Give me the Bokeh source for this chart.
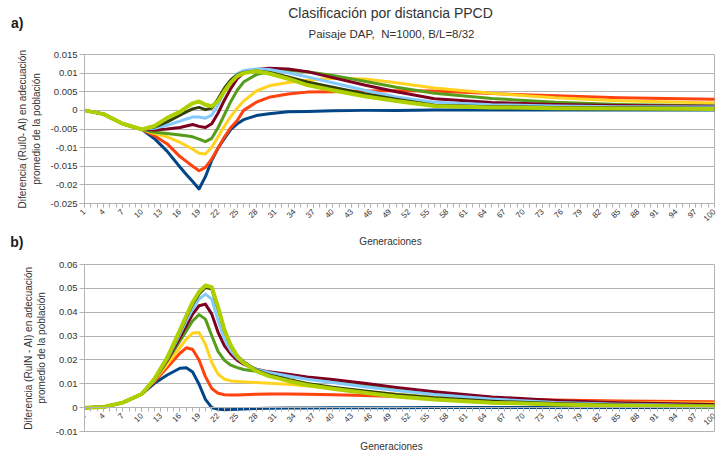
from math import pi

from bokeh.core.properties import value
from bokeh.embed import file_html
from bokeh.layouts import column
from bokeh.models import (ColumnDataSource, CustomJSTickFormatter, FixedTicker,
                          Range1d)
from bokeh.plotting import figure
from bokeh.resources import INLINE

# Generations at which each series is sampled
gens = [1, 4, 7, 10, 12, 14, 16, 17, 18, 19, 20, 21, 22, 23, 24, 25, 26, 28,
        30, 33, 36, 40, 45, 50, 56, 65, 75, 85, 100]
tick_gens = list(range(1, 101, 3))

colors = ["#004586", "#ff420e", "#ffd320", "#579d1c",
          "#7e0021", "#83caff", "#314004", "#aecf00"]

# a) Diferencia (RuI0 - AI)
a_blue = [0, -0.001, -0.0036, -0.0051, -0.0076, -0.011, -0.0152, -0.0172, -0.0191, -0.0211,
          -0.0178, -0.0134, -0.0101, -0.0075, -0.0051, -0.0036, -0.0025, -0.0014, -0.0009,
          -0.0004, -0.0003, -0.0001, 0, 0, 0.0001, 0.0001, 0.0001, 0.0001, 0.0001]
a_orange = [0, -0.001, -0.0036, -0.0051, -0.0068, -0.009, -0.0124, -0.0137, -0.015, -0.0162,
            -0.0153, -0.013, -0.0101, -0.0071, -0.0046, -0.0027, 0.0, 0.0022, 0.0035,
            0.0044, 0.0049, 0.005, 0.0052, 0.0053, 0.0052, 0.0045, 0.0039, 0.0034, 0.003]
a_yellow = [0, -0.001, -0.0036, -0.0051, -0.0062, -0.0071, -0.0086, -0.0095, -0.0104, -0.0115,
            -0.0117, -0.0099, -0.0071, -0.0042, -0.0016, 0.0006, 0.0025, 0.0052, 0.0066,
            0.0075, 0.0081, 0.0086, 0.0084, 0.0074, 0.006, 0.0046, 0.0034, 0.0026, 0.002]
a_green = [0, -0.001, -0.0036, -0.0051, -0.0059, -0.0062, -0.0066, -0.0068, -0.0071, -0.0077,
           -0.0084, -0.0075, -0.0046, -0.0011, 0.0024, 0.0054, 0.0076, 0.0096, 0.0104,
           0.0107, 0.0104, 0.0094, 0.0078, 0.0062, 0.0046, 0.0032, 0.0022, 0.0016, 0.0012]
a_darkred = [0, -0.001, -0.0036, -0.0051, -0.0053, -0.005, -0.0046, -0.0042, -0.0038, -0.0043,
             -0.0046, -0.0036, -0.0007, 0.0028, 0.0059, 0.0085, 0.01, 0.011, 0.0113,
             0.0111, 0.0104, 0.0088, 0.0068, 0.005, 0.0031, 0.0021, 0.0016, 0.0013, 0.0011]
a_lightblue = [0, -0.001, -0.0036, -0.0051, -0.0048, -0.004, -0.0029, -0.0023, -0.0018, -0.0018,
               -0.0021, -0.0013, 0.0015, 0.0052, 0.0081, 0.0098, 0.0107, 0.0111, 0.011,
               0.0101, 0.009, 0.0074, 0.0054, 0.0036, 0.0022, 0.0015, 0.0012, 0.001, 0.0009]
a_olive = [0, -0.001, -0.0036, -0.0051, -0.0045, -0.0031, -0.0013, -0.0004, 0.0004, 0.0008,
           0.0002, 0.0006, 0.0031, 0.006, 0.0082, 0.0095, 0.0102, 0.0106, 0.0102,
           0.009, 0.0076, 0.0062, 0.0045, 0.003, 0.0014, 0.001, 0.0008, 0.0007, 0.0006]
a_lime = [0, -0.001, -0.0036, -0.0051, -0.0042, -0.002, -0.0004, 0.0008, 0.0019, 0.0024,
          0.0015, 0.0011, 0.0025, 0.0052, 0.0075, 0.0092, 0.01, 0.0105, 0.0099,
          0.0085, 0.0068, 0.0054, 0.0038, 0.0025, 0.0012, 0.0008, 0.0006, 0.0005, 0.0004]

# b) Diferencia (RuIN - AI)
b_blue = [0, 0.0003, 0.0021, 0.0057, 0.0102, 0.0137, 0.0165, 0.0167, 0.0149, 0.0098,
          0.0035, 0.0, -0.0007, -0.0009, -0.0008, -0.0007, -0.0006, -0.0004, -0.0003,
          -0.0002, -0.0001, 0, 0, 0, 0.0001, 0.0001, 0.0001, 0.0001, 0.0001]
b_orange = [0, 0.0003, 0.0021, 0.0057, 0.011, 0.0168, 0.0228, 0.0251, 0.0244, 0.02,
            0.013, 0.008, 0.006, 0.0054, 0.0053, 0.0053, 0.0054, 0.0056, 0.0057,
            0.0057, 0.0056, 0.0054, 0.0051, 0.0047, 0.0043, 0.0037, 0.0032, 0.0028, 0.0025]
b_yellow = [0, 0.0003, 0.0021, 0.0057, 0.0114, 0.0182, 0.0252, 0.0287, 0.0313, 0.0315,
            0.0266, 0.0189, 0.014, 0.0119, 0.0112, 0.011, 0.0108, 0.0105, 0.0102,
            0.0098, 0.0091, 0.0082, 0.0068, 0.0056, 0.0045, 0.0035, 0.0028, 0.0022, 0.0018]
b_green = [0, 0.0003, 0.0021, 0.0057, 0.0117, 0.0196, 0.028, 0.0322, 0.0364, 0.039,
           0.0371, 0.0301, 0.0235, 0.0198, 0.0178, 0.0168, 0.016, 0.0152, 0.0142,
           0.0132, 0.0122, 0.011, 0.0094, 0.0078, 0.006, 0.0042, 0.0027, 0.0017, 0.001]
b_darkred = [0, 0.0003, 0.0021, 0.0057, 0.0118, 0.0199, 0.0294, 0.0343, 0.0392, 0.0427,
             0.0434, 0.0392, 0.0315, 0.0259, 0.0224, 0.0199, 0.0182, 0.0161, 0.015,
             0.014, 0.0129, 0.0118, 0.0102, 0.0085, 0.0067, 0.0045, 0.003, 0.002, 0.0013]
b_lightblue = [0, 0.0003, 0.0021, 0.0057, 0.0119, 0.0203, 0.0308, 0.0364, 0.0413, 0.0455,
               0.0476, 0.0455, 0.0364, 0.0287, 0.0238, 0.0208, 0.0187, 0.016, 0.0147,
               0.0133, 0.0119, 0.0105, 0.0088, 0.0072, 0.0055, 0.0036, 0.0022, 0.0014, 0.0008]
b_olive = [0, 0.0003, 0.0021, 0.0057, 0.012, 0.0207, 0.0319, 0.0378, 0.0434, 0.0476,
           0.0504, 0.0497, 0.0413, 0.0322, 0.0259, 0.0217, 0.0192, 0.0157, 0.0137,
           0.0118, 0.0101, 0.0086, 0.007, 0.0055, 0.0041, 0.0027, 0.0017, 0.0011, 0.0007]
b_lime = [0, 0.0003, 0.0021, 0.0057, 0.0121, 0.021, 0.0325, 0.0385, 0.0442, 0.0485,
          0.0512, 0.0505, 0.042, 0.0325, 0.026, 0.0215, 0.0188, 0.0153, 0.0132,
          0.0112, 0.0095, 0.0079, 0.0062, 0.0047, 0.0034, 0.0021, 0.0013, 0.0008, 0.0005]

a_series = [a_blue, a_orange, a_yellow, a_green, a_darkred, a_lightblue, a_olive, a_lime]
b_series = [b_blue, b_orange, b_yellow, b_green, b_darkred, b_lightblue, b_olive, b_lime]

a_yticks = [-0.025, -0.02, -0.015, -0.01, -0.005, 0, 0.005, 0.01, 0.015]
b_yticks = [-0.01, 0, 0.01, 0.02, 0.03, 0.04, 0.05, 0.06]

FONT = "Liberation Sans"
GRID = "#b3b3b3"
TEXT = "#333333"
W = 722
LEFT, RIGHT = 84, 8

fmt = CustomJSTickFormatter(code="""
    let s = tick.toFixed(3);
    s = s.replace(/0+$/, '').replace(/\\.$/, '');
    if (s === '-0') { s = '0'; }
    return s;
""")


def text_strip(height, letter=None):
    """A strip without data that carries text; x and y are in page pixels
    (the frame spans the same columns as the panels' frames).  An optional
    panel letter is shown as the horizontal label of its left axis."""
    p = figure(width=W, height=height, output_backend="svg", toolbar_location=None,
               x_range=Range1d(LEFT, W - RIGHT), y_range=Range1d(height, 0),
               min_border_left=LEFT, min_border_right=RIGHT,
               min_border_top=0, min_border_bottom=0, outline_line_color=None)
    p.grid.visible = False
    p.xaxis.visible = False
    ya = p.yaxis[0]
    if letter is None:
        ya.visible = False
    else:
        ya.ticker = FixedTicker(ticks=[])
        ya.axis_line_color = None
        ya.major_tick_line_color = None
        ya.minor_tick_line_color = None
        ya.major_tick_out = 0
        ya.minor_tick_out = 0
        ya.major_label_text_font_size = "0px"
        ya.axis_label = letter
        ya.axis_label_orientation = "horizontal"
        ya.axis_label_standoff = 61
        ya.axis_label_text_font = FONT
        ya.axis_label_text_font_size = "14px"
        ya.axis_label_text_font_style = "bold"
        ya.axis_label_text_color = "#1a1a1a"
    return p


def put(p, s, x, y, size):
    p.text(x=[x], y=[y], text=[s], text_font=value(FONT),
           text_font_size=value(size), text_color=TEXT, text_align="center",
           text_baseline="middle")


def make_panel(height, top, bottom, yrange, yticks, series, ylabel):
    p = figure(width=W, height=height, output_backend="svg", toolbar_location=None,
               x_range=Range1d(1, 100), y_range=Range1d(*yrange),
               min_border_left=LEFT, min_border_right=RIGHT,
               min_border_top=top, min_border_bottom=bottom)
    p.outline_line_color = GRID

    p.xgrid.visible = False
    p.ygrid.ticker = FixedTicker(ticks=yticks)
    p.ygrid.grid_line_color = GRID

    ya = p.yaxis[0]
    ya.ticker = FixedTicker(ticks=yticks)
    ya.formatter = fmt
    ya.axis_line_color = GRID
    ya.major_tick_line_color = GRID
    ya.major_tick_out = 5
    ya.major_tick_in = 0
    ya.minor_tick_line_color = None
    ya.major_label_standoff = 2
    ya.major_label_text_font = FONT
    ya.major_label_text_font_size = "9.5px"
    ya.major_label_text_color = TEXT
    ya.axis_label = ylabel
    ya.axis_label_text_font = FONT
    ya.axis_label_text_font_size = "10px"
    ya.axis_label_text_font_style = "normal"
    ya.axis_label_text_color = TEXT
    ya.axis_label_standoff = 6

    xa = p.xaxis[0]
    xa.ticker = FixedTicker(ticks=tick_gens, minor_ticks=list(range(1, 101)))
    xa.axis_line_color = GRID
    xa.major_tick_line_color = GRID
    xa.minor_tick_line_color = GRID
    xa.major_tick_out = 4
    xa.major_tick_in = 0
    xa.minor_tick_out = 4
    xa.minor_tick_in = 0
    xa.major_label_orientation = pi / 4
    xa.major_label_standoff = 3
    xa.major_label_text_font = FONT
    xa.major_label_text_font_size = "8px"
    xa.major_label_text_color = TEXT

    for ys, c in zip(series, colors):
        src = ColumnDataSource(dict(x=gens, y=ys))
        lw = 4 if c == "#aecf00" else 3
        p.line("x", "y", source=src, line_color=c, line_width=lw,
               line_join="round", line_cap="round")
    return p


# Header: title, subtitle and panel letter a)
header = text_strip(44, "a)")
put(header, "Clasificación por distancia PPCD", 390, 12, "14px")
put(header, "Paisaje DAP,\u00a0 N=1000, B/L=8/32", 391, 33, "11.5px")

pa = make_panel(186, 10, 27, (-0.025, 0.015), a_yticks, a_series,
                "Diferencia (RuI0- AI) en adecuación\npromedio de la población")

# Between the panels: x-axis title of a) and panel letter b)
middle = text_strip(22, "b)")
put(middle, "Generaciones", 390, 11, "10px")

pb = make_panel(187, 12, 8, (-0.01, 0.06), b_yticks, b_series,
                "Diferencia (RuIN - AI) en adecuación\npromedio de la población")
pb.xaxis[0].fixed_location = 0

footer = text_strip(15)
put(footer, "Generaciones", 391, 7, "10px")

layout = column(header, pa, middle, pb, footer, spacing=0)
open("out.html", "w").write(file_html(layout, INLINE))
